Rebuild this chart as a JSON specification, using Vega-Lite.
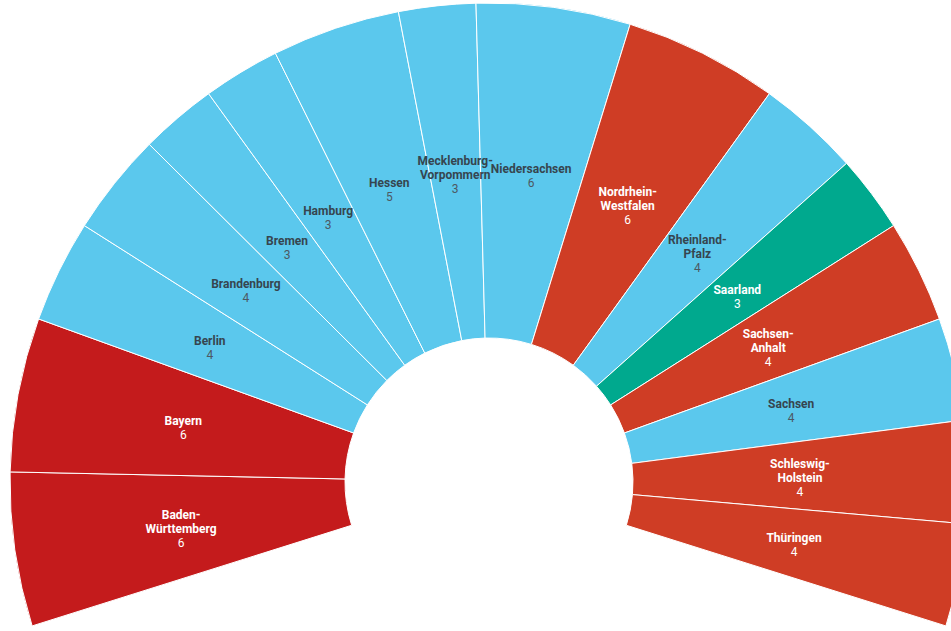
{
  "$schema": "https://vega.github.io/schema/vega-lite/v6.json",
  "width": 951,
  "height": 631,
  "autosize": {"type": "none"},
  "padding": 0,
  "background": "white",
  "config": {"view": {"stroke": null}},
  "data": {
    "values": [
      {"nr": 1, "land": "Baden-Württemberg", "label": "Baden-\nWürttemberg", "stimmen": 6, "gruppe": "dunkelrot"},
      {"nr": 2, "land": "Bayern", "label": "Bayern", "stimmen": 6, "gruppe": "dunkelrot"},
      {"nr": 3, "land": "Berlin", "label": "Berlin", "stimmen": 4, "gruppe": "blau"},
      {"nr": 4, "land": "Brandenburg", "label": "Brandenburg", "stimmen": 4, "gruppe": "blau"},
      {"nr": 5, "land": "Bremen", "label": "Bremen", "stimmen": 3, "gruppe": "blau"},
      {"nr": 6, "land": "Hamburg", "label": "Hamburg", "stimmen": 3, "gruppe": "blau"},
      {"nr": 7, "land": "Hessen", "label": "Hessen", "stimmen": 5, "gruppe": "blau"},
      {"nr": 8, "land": "Mecklenburg-Vorpommern", "label": "Mecklenburg-\nVorpommern", "stimmen": 3, "gruppe": "blau"},
      {"nr": 9, "land": "Niedersachsen", "label": "Niedersachsen", "stimmen": 6, "gruppe": "blau"},
      {"nr": 10, "land": "Nordrhein-Westfalen", "label": "Nordrhein-\nWestfalen", "stimmen": 6, "gruppe": "rot"},
      {"nr": 11, "land": "Rheinland-Pfalz", "label": "Rheinland-\nPfalz", "stimmen": 4, "gruppe": "blau"},
      {"nr": 12, "land": "Saarland", "label": "Saarland", "stimmen": 3, "gruppe": "grün"},
      {"nr": 13, "land": "Sachsen-Anhalt", "label": "Sachsen-\nAnhalt", "stimmen": 4, "gruppe": "rot"},
      {"nr": 14, "land": "Sachsen", "label": "Sachsen", "stimmen": 4, "gruppe": "blau"},
      {"nr": 15, "land": "Schleswig-Holstein", "label": "Schleswig-\nHolstein", "stimmen": 4, "gruppe": "rot"},
      {"nr": 16, "land": "Thüringen", "label": "Thüringen", "stimmen": 4, "gruppe": "rot"}
    ]
  },
  "transform": [
    {"stack": "stimmen", "groupby": [], "sort": [{"field": "nr", "order": "ascending"}], "as": ["s0", "s1"]},
    {"calculate": "(datum.s0 + datum.s1) / 2", "as": "mitte"},
    {"calculate": "indexof(datum.land, '-') >= 0 ? 2 : 1", "as": "zeilen"}
  ],
  "layer": [
    {
      "mark": {"type": "arc", "radius": 479, "radius2": 144, "stroke": "white", "strokeWidth": 1, "xOffset": 13.5, "yOffset": 166.5},
      "encoding": {
        "theta": {"field": "s0", "type": "quantitative", "scale": {"domain": [0, 69], "range": [-1.876, 1.876]}},
        "theta2": {"field": "s1"},
        "color": {
          "field": "gruppe",
          "type": "nominal",
          "scale": {"domain": ["dunkelrot", "rot", "blau", "grün"], "range": ["#c41b1c", "#cf3d25", "#5bc8ed", "#00a98e"]},
          "legend": null
        }
      }
    },
    {
      "transform": [{"filter": "datum.zeilen === 1"}],
      "mark": {"type": "text", "radius": 311, "xOffset": 13.5, "yOffset": 166.5, "font": "Roboto", "fontSize": 12, "fontWeight": "bold", "baseline": "middle", "align": "center", "dy": -4.5},
      "encoding": {
        "theta": {"field": "mitte", "type": "quantitative"},
        "text": {"field": "label", "type": "nominal"},
        "color": {"condition": {"test": "datum.gruppe === 'blau'", "value": "#36454f"}, "value": "#ffffff"}
      }
    },
    {
      "transform": [{"filter": "datum.zeilen === 1"}],
      "mark": {"type": "text", "radius": 311, "xOffset": 13.5, "yOffset": 166.5, "font": "Roboto", "fontSize": 12, "fontWeight": "normal", "baseline": "middle", "align": "center", "dy": 9.5},
      "encoding": {
        "theta": {"field": "mitte", "type": "quantitative"},
        "text": {"field": "stimmen", "type": "quantitative"},
        "color": {"condition": {"test": "datum.gruppe === 'blau'", "value": "#4d5963"}, "value": "#ffffff"}
      }
    },
    {
      "transform": [{"filter": "datum.zeilen === 2"}],
      "mark": {"type": "text", "radius": 311, "xOffset": 13.5, "yOffset": 166.5, "font": "Roboto", "fontSize": 12, "fontWeight": "bold", "lineBreak": "\n", "lineHeight": 14, "baseline": "middle", "align": "center", "dy": -11.5},
      "encoding": {
        "theta": {"field": "mitte", "type": "quantitative"},
        "text": {"field": "label", "type": "nominal"},
        "color": {"condition": {"test": "datum.gruppe === 'blau'", "value": "#36454f"}, "value": "#ffffff"}
      }
    },
    {
      "transform": [{"filter": "datum.zeilen === 2"}],
      "mark": {"type": "text", "radius": 311, "xOffset": 13.5, "yOffset": 166.5, "font": "Roboto", "fontSize": 12, "fontWeight": "normal", "baseline": "middle", "align": "center", "dy": 16.5},
      "encoding": {
        "theta": {"field": "mitte", "type": "quantitative"},
        "text": {"field": "stimmen", "type": "quantitative"},
        "color": {"condition": {"test": "datum.gruppe === 'blau'", "value": "#4d5963"}, "value": "#ffffff"}
      }
    }
  ]
}
